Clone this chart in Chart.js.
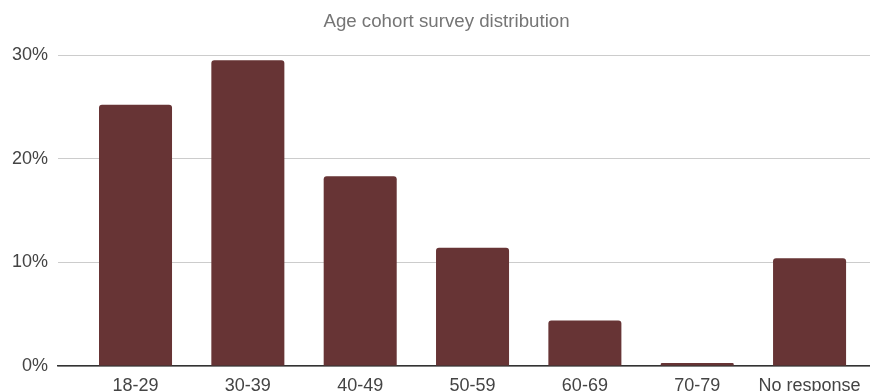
<!DOCTYPE html>
<html>
<head>
<meta charset="utf-8">
<script src="https://cdn.jsdelivr.net/npm/chart.js@4/dist/chart.umd.min.js"></script>
<style>
  html, body { margin: 0; padding: 0; background: #ffffff; }
  #wrap { width: 870px; height: 391px; }
</style>
</head>
<body>
<div id="wrap"><canvas id="c" width="870" height="391"></canvas></div>
<script>
const chartTitle = "Age cohort survey distribution";
const categories = ["18-29", "30-39", "40-49", "50-59", "60-69", "70-79", "No response"];
const percentValues = [25.2, 29.5, 18.3, 11.4, 4.4, 0.3, 10.4];
const yTickValues = [0, 10, 20, 30];

const FONT = "'Liberation Sans', Arial, Helvetica, sans-serif";

const titleShift = {
  id: 'titleShift',
  afterLayout(chart) {
    if (chart.titleBlock) { chart.titleBlock.left += 23; }
  }
};

new Chart(document.getElementById('c'), {
  type: 'bar',
  data: {
    datasets: [{
      data: categories.map((c, i) => ({ x: i, y: percentValues[i] })),
      backgroundColor: '#673435',
      borderRadius: 3,
      borderSkipped: 'start',
      categoryPercentage: 0.65,
      barPercentage: 1.0
    }]
  },
  options: {
    responsive: false,
    animation: false,
    devicePixelRatio: 1,
    layout: { padding: 0 },
    plugins: {
      legend: { display: false },
      tooltip: { enabled: false },
      title: {
        display: true,
        text: chartTitle,
        color: '#757575',
        font: { family: FONT, size: 18.7, weight: 'normal' },
        padding: { top: 11, bottom: 21.6 }
      }
    },
    scales: {
      x: {
        type: 'linear',
        offset: false,
        min: -0.69,
        max: 6.538,
        afterBuildTicks(scale) {
          scale.ticks = categories.map((c, i) => ({ value: i }));
        },
        afterFit(scale) { scale.height = 25; },
        grid: { display: false, drawTicks: false },
        border: { display: true, color: '#333333', width: 1.5 },
        ticks: {
          autoSkip: false,
          maxRotation: 0,
          padding: 9,
          color: '#444444',
          font: { family: FONT, size: 18 },
          callback: (v) => categories[v] ?? ''
        }
      },
      y: {
        min: 0,
        max: 30,
        afterBuildTicks(scale) {
          scale.ticks = yTickValues.map(v => ({ value: v }));
        },
        afterFit(scale) { scale.width = 58; },
        grid: { color: '#cccccc', lineWidth: 1, drawTicks: false },
        border: { display: false },
        ticks: {
          padding: 10,
          color: '#444444',
          font: { family: FONT, size: 18 },
          callback: (v) => v + '%'
        }
      }
    }
  },
  plugins: [titleShift]
});
</script>
</body>
</html>
